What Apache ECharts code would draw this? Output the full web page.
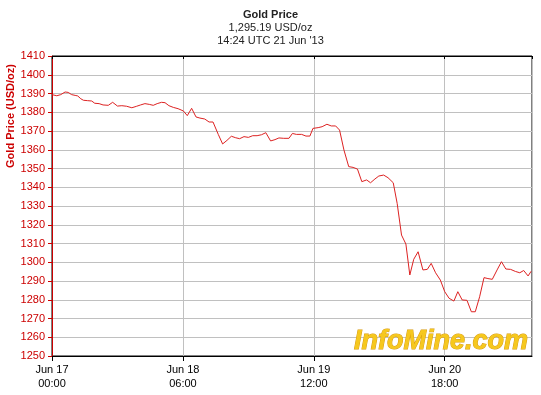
<!DOCTYPE html>
<html>
<head>
<meta charset="utf-8">
<script src="https://cdn.jsdelivr.net/npm/echarts@6/dist/echarts.min.js"></script>
<style>html,body{margin:0;padding:0;background:#fff;}#c{width:541px;height:395px;}</style>
</head>
<body>
<div id="c"></div>
<script>
// Hours since Jun 17 00:00 UTC
var hours = [0,1.1,2.0,3.0,3.7,4.5,5.3,5.9,6.6,7.2,8.1,9.1,9.8,10.8,11.7,12.9,13.9,15.0,16.0,17.1,18.3,19.4,20.3,21.3,22.3,23.2,24.1,25.1,25.9,26.8,27.8,28.9,30.1,31.0,32.0,33.0,33.9,35.0,36.0,36.9,38.1,39.1,40.1,41.1,42.1,43.0,44.0,45.0,46.0,47.0,48.0,49.0,50.1,51.1,52.0,53.1,54.3,55.1,56.0,57.2,58.2,59.1,59.8,61.0,61.9,63.0,64.0,65.0,65.9,66.9,68.0,69.0,70.0,71.0,72.1,73.0,74.0,74.9,76.0,77.0,78.2,79.1,80.1,81.1,82.0,82.9,83.9,85.0,86.0,86.9,87.9,89.0,90.0,91.0,92.1,93.0,94.0,95.1,96.1,97.0,98.0,99.0,99.9,100.9,102.0,103.0,104.0,105.1,106.2,107.2,108.1,109.1,109.8];
var prices = [1389.4,1388.8,1389.4,1390.8,1390.6,1389.4,1389.0,1388.7,1387.2,1386.4,1386.2,1386.0,1384.8,1384.6,1383.9,1383.7,1385.3,1383.3,1383.5,1383.2,1382.4,1383.2,1383.9,1384.6,1384.2,1383.7,1384.6,1385.3,1385.1,1383.5,1382.6,1381.9,1380.7,1378.2,1382.1,1377.5,1376.9,1376.4,1374.8,1374.8,1368.2,1363.1,1365.0,1367.2,1366.4,1365.9,1367.0,1366.6,1367.5,1367.5,1368.0,1369.1,1364.7,1365.4,1366.3,1366.1,1366.1,1368.7,1368.2,1368.2,1367.3,1367.3,1371.4,1371.8,1372.3,1373.6,1372.7,1372.7,1370.5,1359.9,1351.0,1350.6,1349.7,1343.0,1343.9,1342.4,1344.4,1346.0,1346.5,1345.1,1342.4,1331.4,1314.5,1309.7,1293.2,1301.6,1305.6,1295.9,1296.2,1299.4,1294.4,1290.5,1284.3,1280.8,1279.3,1284.3,1279.9,1279.7,1273.6,1273.6,1281.6,1291.8,1291.3,1290.9,1295.9,1300.3,1296.4,1296.2,1295.1,1294.4,1295.6,1292.7,1295.19];
var xTickValues = [0, 30, 60, 90];
var xTickLabels = ['Jun 17\n00:00', 'Jun 18\n06:00', 'Jun 19\n12:00', 'Jun 20\n18:00'];
var titleLines = ['Gold Price', '1,295.19 USD/oz', '14:24 UTC 21 Jun \'13'];
var yAxisTitle = 'Gold Price (USD/oz)';
var watermark = 'InfoMine.com';

var data = hours.map(function (h, i) { return [h, prices[i]]; });
var font = 'Liberation Sans, Arial, sans-serif';

var chart = echarts.init(document.getElementById('c'), null, {renderer: 'canvas'});
chart.setOption({
  animation: false,
  backgroundColor: '#ffffff',
  grid: {left: 52, right: 9, top: 56, bottom: 39, show: true, borderColor: '#000000', borderWidth: 1, backgroundColor: 'transparent'},
  xAxis: [{
    type: 'value', min: 0, max: 110, interval: 30,
    axisLine: {show: true, onZero: false, lineStyle: {color: '#000000', width: 1}},
    axisTick: {show: true, length: 5, lineStyle: {color: '#000000'}},
    axisLabel: {
      color: '#000000', fontFamily: font, fontSize: 11, lineHeight: 14, margin: 7,
      showMaxLabel: false,
      formatter: function (v) { var i = xTickValues.indexOf(v); return i >= 0 ? xTickLabels[i] : ''; }
    },
    splitLine: {show: true, lineStyle: {color: '#c0c0c0', width: 1}}
  }, {
    type: 'value', min: 0, max: 110, interval: 30, position: 'top',
    axisLine: {show: true, onZero: false, lineStyle: {color: '#000000', width: 1}},
    axisTick: {show: true, inside: true, length: 3, lineStyle: {color: '#000000'}},
    axisLabel: {show: false},
    splitLine: {show: false}
  }],
  yAxis: {
    type: 'value', min: 1250, max: 1410, interval: 10,
    axisLine: {show: true, onZero: false, lineStyle: {color: '#cc0000', width: 1}},
    axisTick: {show: true, length: 4, lineStyle: {color: '#cc0000'}},
    axisLabel: {color: '#cc0000', fontFamily: font, fontSize: 11, margin: 7,
      formatter: function (v) { return String(v); }},
    splitLine: {show: true, lineStyle: {color: '#c0c0c0', width: 1}}
  },
  graphic: [
    {type: 'text', left: 'center', top: 9, style: {text: titleLines[0], font: 'bold 11px ' + font, fill: '#222222'}},
    {type: 'text', left: 'center', top: 22, style: {text: titleLines[1], font: '11px ' + font, fill: '#222222'}},
    {type: 'text', left: 'center', top: 35, style: {text: titleLines[2], font: '11px ' + font, fill: '#222222'}},
    {type: 'text', x: 11, y: 116, rotation: Math.PI / 2,
     style: {text: yAxisTitle, font: 'bold 11px ' + font, fill: '#cc0000', textAlign: 'center', textVerticalAlign: 'middle'}},
    {type: 'text', x: 528, y: 355, z: 1,
     style: {text: watermark, font: 'italic bold 27px ' + font, fill: '#f6c81e', textAlign: 'right', textVerticalAlign: 'bottom',
             stroke: '#d89a10', lineWidth: 1,
             shadowColor: '#a87808', shadowOffsetX: 1, shadowOffsetY: 1}}
  ],
  series: [{
    type: 'line', data: data, showSymbol: false, symbol: 'none',
    lineStyle: {color: '#dd2222', width: 1}, z: 5
  }]
});
</script>
</body>
</html>
